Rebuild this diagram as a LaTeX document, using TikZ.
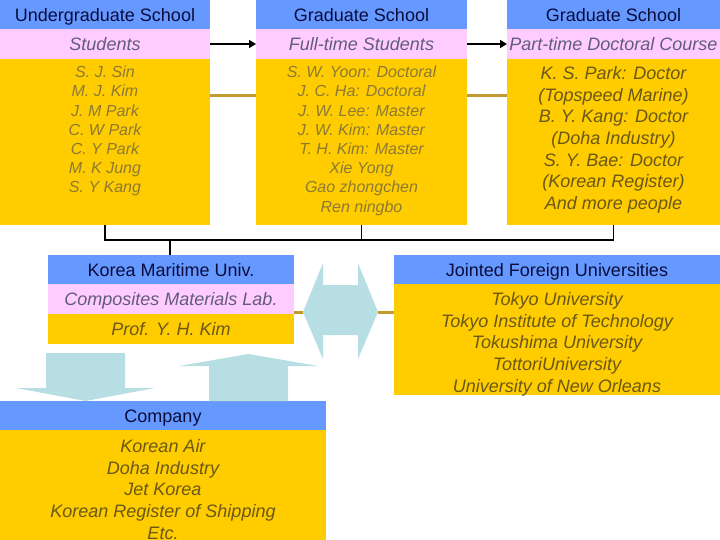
\documentclass[tikz,border=0pt]{standalone}
\usepackage{fontspec}
\setmainfont{Liberation Sans}
\usetikzlibrary{arrows.meta}
\definecolor{hdrblue}{HTML}{6699FF}
\definecolor{pinkc}{HTML}{FFCCFF}
\definecolor{yelc}{HTML}{FFCC00}
\definecolor{navyt}{HTML}{0A0C3C}
\definecolor{pinkt}{HTML}{625C7C}
\definecolor{litet}{HTML}{8C7A34}
\definecolor{darkt}{HTML}{6A5816}
\definecolor{goldl}{HTML}{BF9B30}
\definecolor{arrowblue}{HTML}{B7DEE3}
\tikzset{
  box/.style={draw=none,inner sep=0pt,outer sep=0pt,anchor=north west,font=\fontsize{18}{21.6}\selectfont,text height=12.5pt,text depth=0pt},
  hdr/.style={box,fill=hdrblue,text=navyt,text height=14pt},
  sub/.style={box,fill=pinkc,text=pinkt,font=\fontsize{18}{21.6}\selectfont\itshape},
  ybox/.style={box,fill=yelc,text=darkt,font=\fontsize{18}{21.6}\selectfont\itshape},
  ltext/.style={anchor=north,align=center,inner sep=0pt,text=litet,font=\fontsize{16}{19.2}\selectfont\itshape},
  dtext/.style={anchor=north,align=center,inner sep=0pt,text=darkt,font=\fontsize{18}{21.6}\selectfont\itshape},
  flowarrow/.style={black,line width=1.6pt,-{Triangle[length=7pt,width=8pt]}},
  goldline/.style={goldl,line width=3pt},
  bracket/.style={black,line width=1.3pt},
  blockarrow/.style={fill=arrowblue,draw=none}
}
\begin{document}
\begin{tikzpicture}[x=1pt,y=-1pt]
\useasboundingbox (0,0) rectangle (720,540);
% column 1
\node[hdr,minimum width=210pt,minimum height=29pt] (h1) at (0,0) {Undergraduate School};
\node[sub,minimum width=210pt,minimum height=30pt] (s1) at (0,29) {Students};
\node[ybox,minimum width=210pt,minimum height=166pt] (y1) at (0,59) {};
\node[ltext] (t1) at (105,66) {S. J. Sin\\M. J. Kim\\J. M Park\\C. W Park\\C. Y Park\\M. K Jung\\S. Y Kang};
% column 2
\node[hdr,minimum width=211pt,minimum height=29pt] (h2) at (256,0) {Graduate School};
\node[sub,minimum width=211pt,minimum height=30pt] (s2) at (256,29) {Full-time Students};
\node[ybox,minimum width=211pt,minimum height=166pt] (y2) at (256,59) {};
\node[ltext] (t2) at (361.5,66) {S. W. Yoon: Doctoral\\J. C. Ha: Doctoral\\J. W. Lee: Master\\J. W. Kim: Master\\T. H. Kim: Master\\Xie Yong\\Gao zhongchen\\Ren ningbo};
% column 3
\node[hdr,minimum width=213pt,minimum height=29pt] (h3) at (507,0) {Graduate School};
\node[sub,minimum width=213pt,minimum height=30pt] (s3) at (507,29) {Part-time Doctoral Course};
\node[ybox,minimum width=213pt,minimum height=166pt] (y3) at (507,59) {};
\node[dtext] (t3) at (613.5,66.5) {K. S. Park: Doctor\\(Topspeed Marine)\\B. Y. Kang: Doctor\\(Doha Industry)\\S. Y. Bae: Doctor\\(Korean Register)\\And more people};
% arrows between pink rows
\draw[flowarrow] (s1.east) -- (s2.west);
\draw[flowarrow] (s2.east) -- (s3.west);
% gold lines between yellow boxes
\draw[goldline] ([yshift=-37pt]y1.north east) -- ([yshift=-37pt]y2.north west);
\draw[goldline] ([yshift=-37pt]y2.north east) -- ([yshift=-37pt]y3.north west);
% Korea Maritime
\node[hdr,minimum width=246pt,minimum height=29pt] (kh) at (48,255) {Korea Maritime Univ.};
\node[sub,minimum width=246pt,minimum height=30pt] (ks) at (48,284) {Composites Materials Lab.};
\node[ybox,minimum width=246pt,minimum height=30pt] (ky) at (48,314) {Prof. Y. H. Kim};
% bracket
\coordinate (br) at (0,240);
\draw[bracket] (y1.south) |- (y3.south |- br) -- (y3.south);
\draw[bracket] (y2.south) -- (y2.south |- br);
\draw[bracket] (kh.north -| 170,0) -- (170,240);
% Jointed
\node[hdr,minimum width=326pt,minimum height=29pt] (jh) at (394,255) {Jointed Foreign Universities};
\node[ybox,minimum width=326pt,minimum height=111pt] (jy) at (394,284) {};
\node[dtext] (jt) at (557,292.5) {Tokyo University\\Tokyo Institute of Technology\\Tokushima University\\TottoriUniversity\\University of New Orleans};
% double arrow
\coordinate (dl) at (303,312);
\coordinate (dr) at (378,312);
\fill[blockarrow] (dl) -- (323,263) -- (323,285) -- (358,285) -- (358,263) -- (dr) -- (358,359) -- (358,335) -- (323,335) -- (323,359) -- cycle;
\draw[goldline] ([yshift=2pt]ks.south east) -- (dl);
\draw[goldline] (dr) -- (jy.west |- dr);
% Company
\node[hdr,minimum width=326pt,minimum height=29pt] (ch) at (0,401) {Company};
\node[ybox,minimum width=326pt,minimum height=110pt] (cy) at (0,430) {};
\node[dtext] (ct) at (163,439.5) {Korean Air\\Doha Industry\\Jet Korea\\Korean Register of Shipping\\Etc.};
% down and up block arrows
\fill[blockarrow] (46,353) -- (125,353) -- (125,388) -- (155,388) -- (85.5,401) -- (16,388) -- (46,388) -- cycle;
\fill[blockarrow] (248.5,354) -- (318,366) -- (288,366) -- (288,401) -- (209,401) -- (209,366) -- (179,366) -- cycle;
\end{tikzpicture}
\end{document}
